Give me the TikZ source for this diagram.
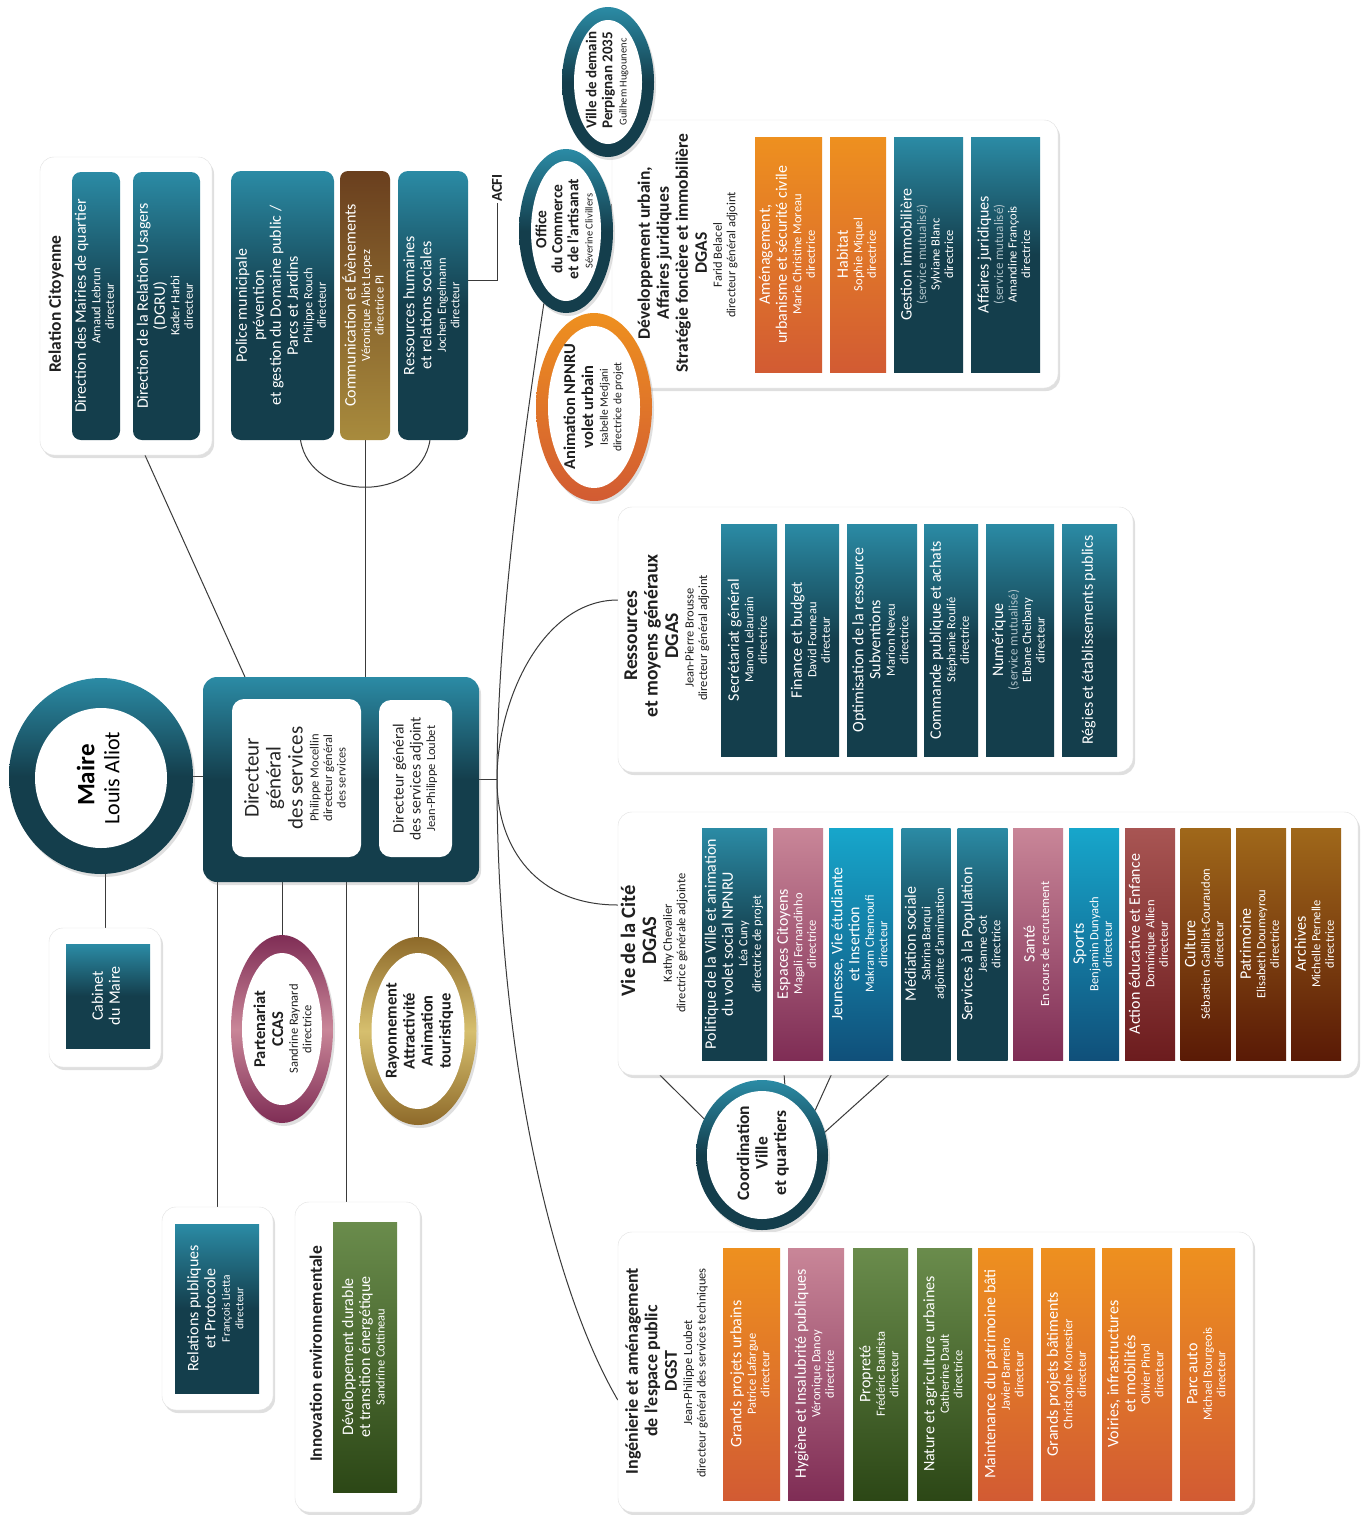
\documentclass[tikz,border=0pt]{standalone}
\usepackage{fontspec}
\setmainfont{Carlito}
\usetikzlibrary{shapes.geometric,shadows}
\pgfdeclarelayer{background}
\pgfsetlayers{background,main}

\definecolor{tealL}{HTML}{2B8BA5}
\definecolor{tealD}{HTML}{143E4C}
\definecolor{orT}{HTML}{EE901F}
\definecolor{orB}{HTML}{D25B33}
\definecolor{pkT}{HTML}{C98698}
\definecolor{pkB}{HTML}{7F2D55}
\definecolor{blT}{HTML}{17A6CB}
\definecolor{blB}{HTML}{10507A}
\definecolor{grT}{HTML}{6A8C4C}
\definecolor{grB}{HTML}{2C4716}
\definecolor{rdT}{HTML}{A85553}
\definecolor{rdB}{HTML}{6C1C1E}
\definecolor{brT}{HTML}{A0681A}
\definecolor{brB}{HTML}{5A1A06}
\definecolor{cmT}{HTML}{6A3F1E}
\definecolor{cmB}{HTML}{A88B3D}
\definecolor{gdL}{HTML}{D6BF6E}
\definecolor{gdD}{HTML}{8E6A2A}
\definecolor{mutu}{HTML}{AFC3CA}
\definecolor{wirecol}{HTML}{3A3A3A}

\newcommand{\vt}[1]{\rotatebox{90}{\begin{tabular}{@{}c@{}}#1\end{tabular}}}
\newcommand{\fa}{\fontsize{16}{17}\selectfont\strut}
\newcommand{\fn}{\fontsize{12.5}{13.5}\selectfont}
\newcommand{\fsm}{\fontsize{11.5}{13}\selectfont}
\newcommand{\fxs}{\fontsize{10.5}{12}\selectfont}
\newcommand{\ft}[2]{\bfseries\fontsize{#1}{#2}\selectfont\strut}
\newcommand{\fr}{\ft{16.5}{18}}
\newcommand{\mutu}{{\color{mutu}\fontsize{13}{14}\selectfont(service mutualisé)}}

\tikzset{
  sz/.style 2 args={minimum width=#1pt, minimum height=#2pt},
  panel/.style={draw=black!12, fill=white, rounded corners=14pt,
    drop shadow={shadow xshift=2pt, shadow yshift=-3pt, opacity=.25}},
  unit/.style={outer sep=0pt, text=white},
  tealbox/.style={unit, top color=tealL, bottom color=tealD, middle color=tealD},
  orangebox/.style={unit, top color=orT, bottom color=orB},
  pinkbox/.style={unit, top color=pkT, bottom color=pkB},
  bluebox/.style={unit, top color=blT, bottom color=blB},
  greenbox/.style={unit, top color=grT, bottom color=grB},
  redbox/.style={unit, top color=rdT, bottom color=rdB},
  brownbox/.style={unit, top color=brT, bottom color=brB},
  ring/.style={ellipse, outer sep=0pt, drop shadow={shadow xshift=2pt, shadow yshift=-3pt, opacity=.25}},
  hole/.style={ellipse, fill=white},
  ptitle/.style={text=black!88},
  wire/.style={draw=wirecol, line width=1pt},
}

\begin{document}
\begin{tikzpicture}[x=1pt,y=-1pt,every node/.style={font=\fn, inner sep=0pt}]
\begin{pgfonlayer}{background}
\fill[white] (0,0) rectangle (1366,1515);
\end{pgfonlayer}
\useasboundingbox (0,0) rectangle (1366,1515);

% maire et direction generale
\node[ring, top color=tealL, bottom color=tealD, middle color=tealD, sz={184}{196}] (maire) at (101,776) {};
\node[hole, sz={132}{140}] (maire-in) at (101,778) {};
\node[text=black] (maire-t) at (maire-in) {\vt{\ft{25}{27} Maire\\ \fontsize{22}{24}\selectfont\strut Louis Aliot}};

\node[tealbox, rounded corners=14pt, sz={276}{205}, drop shadow={shadow xshift=2pt, shadow yshift=-3pt, opacity=.25}] (dg) at (341,779.5) {};
\node[fill=white, rounded corners=12pt, sz={129}{158}, text=black!85] (dgs) at (296.5,778) {\vt{\fontsize{21}{22}\selectfont\strut Directeur\\ \fontsize{21}{22}\selectfont\strut général\\ \fontsize{21}{22}\selectfont\strut des services\\ Philippe Mocellin\\ directeur général\\ des services}};
\node[fill=white, rounded corners=12pt, sz={73}{157}, text=black!85] (dgsa) at (415.5,778.5) {\vt{\fontsize{15.5}{17}\selectfont\strut Directeur général\\ \fontsize{15.5}{17}\selectfont\strut des services adjoint\\ Jean-Philippe Loubet}};

% haut gauche
\node[panel, sz={172}{298}] (rc) at (126,306) {};
\node[ptitle] (rc-t) at (57,306) {\vt{\ft{17.5}{19} Relation Citoyenne}};
\node[tealbox, rounded corners=9pt, sz={48}{268}] (dmq) at (96,306) {\vt{\fa Direction des Mairies de quartier\\ Arnaud Lebrun\\ directeur}};
\node[tealbox, rounded corners=9pt, sz={67}{268}] (dgru) at (166.5,306) {\vt{\fa Direction de la Relation Usagers\\ \fa (DGRU)\\ Kader Harbi\\ directeur}};

\node[tealbox, rounded corners=10pt, sz={103}{269}] (police) at (282.5,305.5) {\vt{\fa Police municipale\\ \fa prévention\\ \fa et gestion du Domaine public /\\ \fa Parcs et Jardins\\ Philippe Rouch\\ directeur}};
\node[unit, top color=cmT, bottom color=cmB, rounded corners=8pt, sz={50}{269}] (comm) at (365,305.5) {\vt{\fa Communication et Évènements\\ Véronique Aliot Lopez\\ directrice PI}};
\node[tealbox, rounded corners=10pt, sz={70}{269}] (rh) at (433,305.5) {\vt{\fa Ressources humaines\\ \fa et relations sociales\\ Jochen Engelmann\\ directeur}};
\node[ptitle, font=\bfseries\fontsize{15}{16}\selectfont, inner sep=1pt] (acfi) at (497,188) {\rotatebox{90}{ACFI}};

% bas gauche
\node[panel, sz={112}{139}] (cab) at (105,997.5) {};
\node[tealbox, sz={84}{104}] (cabi) at (108,996) {\vt{\fa Cabinet\\ \fa du Maire}};

\node[ring, top color=pkB, bottom color=pkB, middle color=pkT, sz={102}{188}] (ccas) at (282,1029) {};
\node[hole, sz={80}{152}] (ccas-in) at (ccas) {};
\node[text=black!88] (ccas-t) at (284,1029) {\vt{\fr Partenariat\\ \fr CCAS\\ Sandrine Raynard\\ directrice}};

\node[ring, top color=gdD, bottom color=gdD, middle color=gdL, sz={117}{188}] (ray) at (418,1031) {};
\node[hole, sz={93}{156}] (ray-in) at (ray) {};
\node[text=black!88] (ray-t) at (420,1031) {\vt{\fr Rayonnement\\ \fr Attractivité\\ \fr Animation\\ \fr touristique}};

\node[panel, sz={111}{203}] (rp) at (217.5,1308.5) {};
\node[tealbox, sz={84}{169}] (rpi) at (217,1308.5) {\vt{\fa Relations publiques\\ \fa et Protocole\\ \fsm François Lietta\\ \fsm directeur}};

\node[panel, sz={125}{310}] (inn) at (357.5,1357) {};
\node[ptitle] (inn-t) at (318,1356) {\vt{\ft{17.5}{19} Innovation environnementale}};
\node[greenbox, sz={64}{270}] (ddte) at (365,1357) {\vt{\fa Développement durable\\ \fa et transition énergétique\\ Sandrine Cottineau}};

% developpement urbain
\node[panel, sz={446}{268}] (dgau) at (835,254) {};
\node[ptitle] (dgau-t) at (688,255) {\vt{\ft{17.5}{19} Développement urbain,\\ \ft{17.5}{19} Affaires juridiques\\ \ft{17.5}{19} Stratégie foncière et immobilière\\ \ft{17.5}{19} DGAS\\ Farid Belacel\\ directeur général adjoint}};
\node[orangebox, sz={67}{235}] (amen) at (788.5,254.5) {\vt{\fa Aménagement,\\ \fa urbanisme et sécurité civile\\ Marie Christine Moreau\\ directrice}};
\node[orangebox, sz={56}{235}] (hab) at (858,254.5) {\vt{\fa Habitat\\ Sophie Miquel\\ directrice}};
\node[tealbox, sz={69}{235}] (gim) at (928.5,254.5) {\vt{\fa Gestion immobilière\\ \mutu\\ Sylviane Blanc\\ directrice}};
\node[tealbox, sz={69}{235}] (ajur) at (1005.5,254.5) {\vt{\fa Affaires juridiques\\ \mutu\\ Amandine François\\ directrice}};

\node[ring, top color=tealL, bottom color=tealD, middle color=tealD, sz={92}{150}] (ville) at (608,82) {};
\node[hole, sz={68}{124}] (ville-in) at (ville) {};
\node[text=black!88] (ville-t) at (ville-in) {\vt{\ft{15}{16} Ville de demain\\ \ft{15}{16} Perpignan 2035\\ \fxs Guilhem Hugounenc}};

\node[ring, top color=tealL, bottom color=tealD, middle color=tealD, sz={94}{164}] (office) at (566,231) {};
\node[hole, sz={70}{140}] (office-in) at (office) {};
\node[text=black!88] (office-t) at (office-in) {\vt{\ft{15.5}{16} Office\\ \ft{15.5}{16} du Commerce\\ \ft{15.5}{16} et de l'artisanat\\ \fxs Séverine Clivillers}};

\node[ring, top color=orT, bottom color=orB, sz={116}{188}] (npnru) at (594,407) {};
\node[hole, sz={92}{162}] (npnru-in) at (npnru) {};
\node[text=black!88] (npnru-t) at (594,407) {\vt{\fr Animation NPNRU\\ \fr volet urbain\\ \fsm Isabelle Medjani\\ \fsm directrice de projet}};

% ressources
\node[panel, sz={515}{265}] (rmg) at (875.5,639.5) {};
\node[ptitle] (rmg-t) at (667,638) {\vt{\ft{19.5}{20.5} Ressources\\ \ft{19.5}{20.5} et moyens généraux\\ \ft{19.5}{20.5} DGAS\\ Jean-Pierre Brousse\\ directeur général adjoint}};
\node[tealbox, sz={56}{232}] (sg) at (749,640) {\vt{\fa Secrétariat général\\ Manon Lelaurain\\ directrice}};
\node[tealbox, sz={54}{232}] (fb) at (812,640) {\vt{\fa Finance et budget\\ David Founeau\\ directeur}};
\node[tealbox, sz={70}{232}] (opt) at (882,640) {\vt{\fa Optimisation de la ressource\\ \fa Subventions\\ Marion Neveu\\ directrice}};
\node[tealbox, sz={54}{232}] (cpa) at (951,640) {\vt{\fa Commande publique et achats\\ Stéphanie Roulié\\ directrice}};
\node[tealbox, sz={68}{232}] (num) at (1020,640) {\vt{\fa Numérique\\ \mutu\\ Elbane Cheibany\\ directeur}};
\node[tealbox, sz={55}{232}] (reg) at (1089.5,640) {\vt{\fa Régies et établissements publics}};

% vie de la cite
\node[panel, sz={740}{263}] (vdc) at (988,943.5) {};
\node[ptitle] (vdc-t) at (655,943) {\vt{\ft{20.5}{21} Vie de la Cité\\ \ft{20.5}{21} DGAS\\ Kathy Chevalier\\ directrice générale adjointe}};
\node[tealbox, sz={65}{232}] (pol) at (734.5,944) {\vt{\fa Politique de la Ville et animation\\ \fa du volet social NPNRU\\ Léa Cuny\\ directrice de projet}};
\node[pinkbox, sz={50}{232}] (esp) at (798,944) {\vt{\fa Espaces Citoyens\\ Magali Fernandinho\\ directrice}};
\node[bluebox, sz={64}{232}] (jeu) at (861,944) {\vt{\fa Jeunesse, Vie étudiante\\ \fa et Insertion\\ Makram Chennoufi\\ directeur}};
\node[tealbox, sz={49}{232}] (med) at (926,944) {\vt{\fa Médiation sociale\\ Sabrina Barqui\\ adjointe d'annimation}};
\node[tealbox, sz={50}{232}] (spop) at (982.5,944) {\vt{\fa Services à la Population\\ Jeanne Got\\ directrice}};
\node[pinkbox, sz={50}{232}] (sante) at (1038,944) {\vt{\fa Santé\\ En cours de recrutement}};
\node[bluebox, sz={50}{232}] (sport) at (1094,944) {\vt{\fa Sports\\ Benjamin Dunyach\\ directeur}};
\node[redbox, sz={50}{232}] (aee) at (1150,944) {\vt{\fa Action éducative et Enfance\\ Dominique Allien\\ directeur}};
\node[brownbox, sz={50}{232}] (cult) at (1205.5,944) {\vt{\fa Culture\\ Sébastien Gabillat-Couraudon\\ directeur}};
\node[brownbox, sz={50}{232}] (patr) at (1261,944) {\vt{\fa Patrimoine\\ Elisabeth Doumeyrou\\ directrice}};
\node[brownbox, sz={50}{232}] (archv) at (1316,944) {\vt{\fa Archives\\ Michelle Pernelle\\ directrice}};

\node[ring, top color=tealL, bottom color=tealD, middle color=tealD, sz={132}{150}] (coord) at (762,1155) {};
\node[hole, sz={110}{128}] (coord-in) at (coord) {};
\node[text=black!88] (coord-t) at (764,1155) {\vt{\ft{17.5}{18.5} Coordination\\ \ft{17.5}{18.5} Ville\\ \ft{17.5}{18.5} et quartiers}};

% ingenierie
\node[panel, sz={635}{280}] (dgst) at (935.5,1372) {};
\node[ptitle] (dgst-t) at (667,1373) {\vt{\ft{18}{19.5} Ingénierie et aménagement\\ \ft{18}{19.5} de l'espace public\\ \ft{18}{19.5} DGST\\ Jean-Philippe Loubet\\ directeur général des services techniques}};
\node[orangebox, sz={57}{252}] (gpu) at (751.5,1374) {\vt{\fa Grands projets urbains\\ Patrice Lafargue\\ directeur}};
\node[pinkbox, sz={56}{252}] (hyg) at (816,1374) {\vt{\fa Hygiène et Insalubrité publiques\\ Véronique Danoy\\ directrice}};
\node[greenbox, sz={55}{252}] (prop) at (880.5,1374) {\vt{\fa Propreté\\ Frédéric Bautista\\ directeur}};
\node[greenbox, sz={55}{252}] (nat) at (944.5,1374) {\vt{\fa Nature et agriculture urbaines\\ Catherine Dault\\ directrice}};
\node[orangebox, sz={55}{252}] (maint) at (1005.5,1374) {\vt{\fa Maintenance du patrimoine bâti\\ Javier Barreiro\\ directeur}};
\node[orangebox, sz={54}{252}] (gpb) at (1068,1374) {\vt{\fa Grands projets bâtiments\\ Christophe Monestier\\ directeur}};
\node[orangebox, sz={70}{252}] (voir) at (1137,1374) {\vt{\fa Voiries, infrastructures\\ \fa et mobilités\\ Olivier Pinol\\ directeur}};
\node[orangebox, sz={55}{252}] (parc) at (1207.5,1374) {\vt{\fa Parc auto\\ Michael Bourgeois\\ directeur}};

% liens
\begin{pgfonlayer}{background}
\coordinate (hub) at ([xshift=18pt]dg.east);
\coordinate (inn-top) at ([xshift=-11pt]inn.north);
\draw[wire] (maire.east) -- (maire.east -| dg.west);
\draw[wire] (cab.north) -- (cab.north |- maire.south);
\draw[wire] ([xshift=-96pt]dg.north) -- ([xshift=19pt]rc.south);
\draw[wire] (comm.south) -- (comm.south |- dg.north);
\draw[wire] ([xshift=18pt]police.south) .. controls +(10,63) and +(-10,63) .. ([xshift=-3pt]rh.south);
\draw[wire] ([yshift=25pt]rh.east) -| (acfi.south);
\draw[wire] (rp.north) -- (rp.north |- dg.south);
\draw[wire] (ccas.north) -- (ccas.north |- dg.south);
\draw[wire] (inn-top) -- (inn-top |- dg.south);
\draw[wire] (ray.north) -- (ray.north |- dg.south);
\draw[wire] (dg.east) -- (hub);
\draw[wire] (hub) .. controls +(0,-160) and +(-17,112) .. (office.253);
\draw[wire] (office.20) -- (dgau.west |- 0,204);
\draw[wire] (hub) .. controls +(0,-80) and +(-75,0) .. (rmg.west |- 0,600);
\draw[wire] (hub) .. controls +(0,70) and +(-80,0) .. (vdc.west |- 0,905);
\draw[wire] (hub) .. controls +(0,260) and +(-70,-120) .. (dgst.west |- 0,1400);
\draw[wire] (vdc.south -| 660,0) -- (coord.148);
\draw[wire] ([xshift=-15pt]esp.south) -- (coord.72);
\draw[wire] ([xshift=-23pt]jeu.south) -- (coord.40);
\draw[wire] ([xshift=-21pt]med.south) -- (coord.20);
\end{pgfonlayer}
\end{tikzpicture}
\end{document}
